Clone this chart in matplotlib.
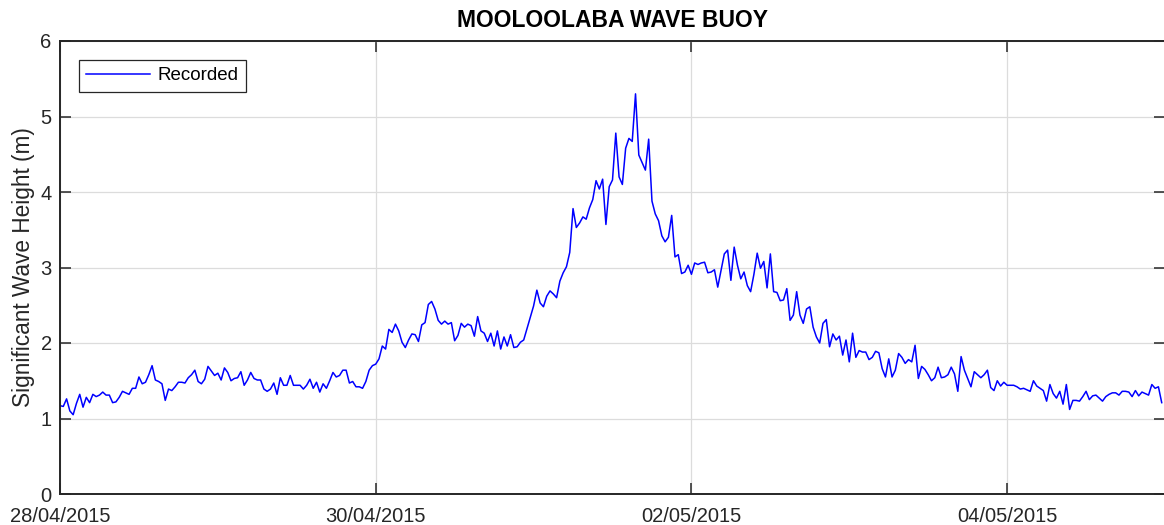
import numpy as np
import matplotlib
matplotlib.use('Agg')
import matplotlib.pyplot as plt
from datetime import datetime, timedelta

plt.rcParams['font.family'] = ['Liberation Sans', 'DejaVu Sans']

# half-hourly significant wave height (m), starting 28/04/2015 00:00
start = datetime(2015, 4, 28)
step_min = 30
hs = [
    1.17, 1.16, 1.26, 1.10, 1.05, 1.20, 1.32, 1.15, 1.28, 1.21, 1.32, 1.29,
    1.31, 1.35, 1.31, 1.31, 1.21, 1.22, 1.28, 1.36, 1.34, 1.32, 1.40, 1.40,
    1.55, 1.46, 1.48, 1.58, 1.70, 1.51, 1.49, 1.46, 1.24, 1.39, 1.37, 1.42,
    1.48, 1.48, 1.47, 1.54, 1.58, 1.64, 1.49, 1.46, 1.52, 1.69, 1.63, 1.57,
    1.60, 1.51, 1.67, 1.61, 1.50, 1.53, 1.54, 1.62, 1.44, 1.51, 1.61, 1.53,
    1.51, 1.51, 1.39, 1.36, 1.39, 1.47, 1.32, 1.54, 1.44, 1.44, 1.57, 1.44,
    1.44, 1.44, 1.39, 1.44, 1.52, 1.40, 1.48, 1.35, 1.46, 1.40, 1.50, 1.61,
    1.55, 1.57, 1.64, 1.64, 1.47, 1.49, 1.42, 1.42, 1.40, 1.49, 1.64, 1.70,
    1.72, 1.79, 1.96, 1.92, 2.18, 2.14, 2.25, 2.16, 2.01, 1.94, 2.04, 2.12,
    2.11, 2.02, 2.24, 2.27, 2.51, 2.55, 2.45, 2.30, 2.25, 2.29, 2.25, 2.27,
    2.03, 2.10, 2.26, 2.21, 2.25, 2.23, 2.09, 2.35, 2.16, 2.13, 2.02, 2.13,
    1.96, 2.16, 1.92, 2.08, 1.96, 2.11, 1.94, 1.95, 2.01, 2.04, 2.19, 2.34,
    2.49, 2.70, 2.53, 2.48, 2.62, 2.69, 2.65, 2.60, 2.82, 2.93, 3.01, 3.20,
    3.78, 3.53, 3.59, 3.67, 3.64, 3.79, 3.90, 4.15, 4.04, 4.17, 3.57, 4.07,
    4.16, 4.78, 4.20, 4.10, 4.58, 4.71, 4.67, 5.30, 4.49, 4.39, 4.29, 4.70,
    3.88, 3.71, 3.62, 3.42, 3.34, 3.40, 3.69, 3.14, 3.17, 2.92, 2.94, 3.03,
    2.91, 3.06, 3.04, 3.06, 3.07, 2.93, 2.94, 2.97, 2.74, 2.96, 3.18, 3.23,
    2.83, 3.27, 3.03, 2.85, 2.94, 2.76, 2.68, 2.91, 3.19, 2.99, 3.08, 2.73,
    3.18, 2.68, 2.67, 2.56, 2.57, 2.72, 2.30, 2.37, 2.68, 2.37, 2.26, 2.45,
    2.48, 2.21, 2.08, 2.00, 2.26, 2.31, 1.95, 2.12, 2.04, 2.09, 1.84, 2.04,
    1.75, 2.13, 1.81, 1.90, 1.88, 1.88, 1.78, 1.81, 1.89, 1.87, 1.66, 1.55,
    1.79, 1.55, 1.64, 1.86, 1.81, 1.73, 1.78, 1.75, 1.97, 1.53, 1.69, 1.65,
    1.58, 1.50, 1.54, 1.68, 1.54, 1.55, 1.58, 1.68, 1.59, 1.36, 1.82, 1.64,
    1.53, 1.42, 1.62, 1.58, 1.54, 1.58, 1.64, 1.41, 1.37, 1.50, 1.43, 1.48,
    1.44, 1.44, 1.44, 1.42, 1.39, 1.40, 1.38, 1.36, 1.50, 1.43, 1.40, 1.37,
    1.23, 1.45, 1.33, 1.27, 1.36, 1.19, 1.45, 1.12, 1.24, 1.24, 1.23, 1.29,
    1.36, 1.25, 1.30, 1.31, 1.27, 1.23, 1.29, 1.32, 1.34, 1.34, 1.31, 1.36,
    1.36, 1.35, 1.29, 1.37, 1.30, 1.35, 1.33, 1.31, 1.45, 1.40, 1.42, 1.21,
]
times = [start + timedelta(minutes=step_min * i) for i in range(len(hs))]

tick_labels = ['28/04/2015', '30/04/2015', '02/05/2015', '04/05/2015']
tick_dates = [datetime.strptime(s, '%d/%m/%Y') for s in tick_labels]
x_end = datetime(2015, 5, 5)

W, H = 1164, 525
fig = plt.figure(figsize=(W / 100, H / 100), dpi=100)
ax = fig.add_axes([60 / W, 31 / H, 1105 / W, 453 / H])

ax.plot(times, hs, color='#0000ff', lw=1.1, label='Recorded')

ax.set_xlim(start, x_end)
ax.set_ylim(0, 6)
ax.set_yticks(range(7))
ax.set_xticks(tick_dates)
ax.set_xticklabels(tick_labels)

ax.grid(True, color='#dcdcdc', lw=0.9)
ax.set_axisbelow(True)

dark = '#262626'
for sp in ax.spines.values():
    sp.set_color(dark)
    sp.set_linewidth(1.4)
ax.tick_params(direction='in', length=8, width=1.1, color=dark,
               labelcolor=dark, labelsize=14.5, top=True, right=True, pad=6)
ax.tick_params(axis='x', pad=9)

ax.set_title('MOOLOOLABA WAVE BUOY', fontsize=16.5, fontweight='bold', pad=10)
ax.set_ylabel('Significant Wave Height (m)', fontsize=16.3, color=dark, labelpad=4)

leg = ax.legend(loc='upper left', fontsize=13.5, handlelength=3.4,
                handletextpad=0.4, borderaxespad=1.0, fancybox=False,
                framealpha=1)
leg.get_frame().set_edgecolor(dark)
leg.get_frame().set_linewidth(0.9)

fig.savefig('out.png', dpi=100)
